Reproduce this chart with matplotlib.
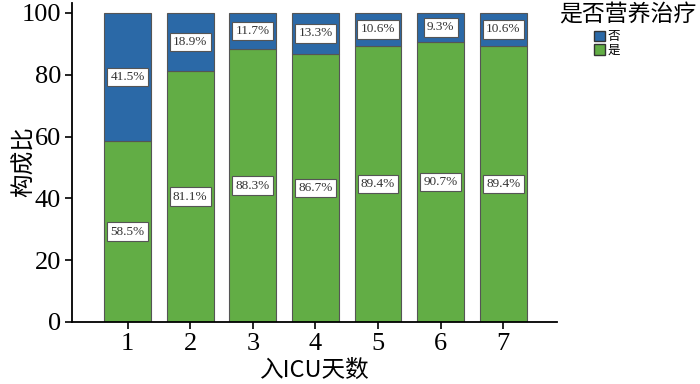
import numpy as np
import matplotlib
matplotlib.use("Agg")
import matplotlib.pyplot as plt
from matplotlib.patches import Patch

plt.rcParams['font.family'] = ['Liberation Serif', 'Noto Sans CJK SC']

days = ['1', '2', '3', '4', '5', '6', '7']
yes_pct = [58.5, 81.1, 88.3, 86.7, 89.4, 90.7, 89.4]
no_pct = [41.5, 18.9, 11.7, 13.3, 10.6, 9.3, 10.6]

green = '#62ad45'
blue = '#2b69a7'
cjk = ['Noto Sans CJK SC', 'Liberation Serif']

fig = plt.figure(figsize=(7, 3.84), dpi=100)
ax = fig.add_axes([72/700, 1 - 322/384, (557-72)/700, (322-3)/384])

x = np.arange(1, len(days) + 1)
ax.bar(x, yes_pct, width=0.75, color=green, edgecolor='#555555', linewidth=0.8)
ax.bar(x, no_pct, width=0.75, bottom=yes_pct, color=blue, edgecolor='#555555', linewidth=0.8)

box = dict(boxstyle='square,pad=0.25', facecolor='white', edgecolor='#555555', linewidth=0.8)
for xi, y1, y2 in zip(x, yes_pct, no_pct):
    ax.text(xi, y1 / 2, f"{y1:.1f}%", ha='center', va='center', fontsize=9.5,
            color='#333333', bbox=box)
    ax.text(xi, y1 + y2 / 2, f"{y2:.1f}%", ha='center', va='center', fontsize=9.5,
            color='#333333', bbox=box)

ax.set_xlim(0.11, 7.86)
ax.set_ylim(0, 103.2)
ax.set_xticks(x)
ax.set_xticklabels(days)
ax.set_yticks([0, 20, 40, 60, 80, 100])
ax.tick_params(labelsize=19, width=1.2, length=5, pad=3)
ax.spines['top'].set_visible(False)
ax.spines['right'].set_visible(False)
ax.spines['left'].set_linewidth(1.3)
ax.spines['bottom'].set_linewidth(1.3)

fig.text(24/700, 1 - 162/384, '构成比', fontsize=17, family=cjk,
         rotation=90, ha='center', va='center')
fig.text(314/700, 1 - 370/384, '入ICU天数', fontsize=17, family=cjk,
         ha='center', va='center')

handles = [Patch(facecolor=blue, edgecolor='#333333', label='否'),
           Patch(facecolor=green, edgecolor='#333333', label='是')]
fig.text(628/700, 1 - 15/384, '是否营养治疗', fontsize=16.5, family=cjk,
         ha='center', va='center')
leg = fig.legend(handles=handles, loc='upper left', bbox_to_anchor=(594/700, 1 - 30/384),
                 frameon=False, prop={'family': cjk, 'size': 9},
                 handlelength=0.9, handleheight=0.9, handletextpad=0.15,
                 labelspacing=0.05, borderpad=0, borderaxespad=0)

fig.savefig('out.png', dpi=100)
